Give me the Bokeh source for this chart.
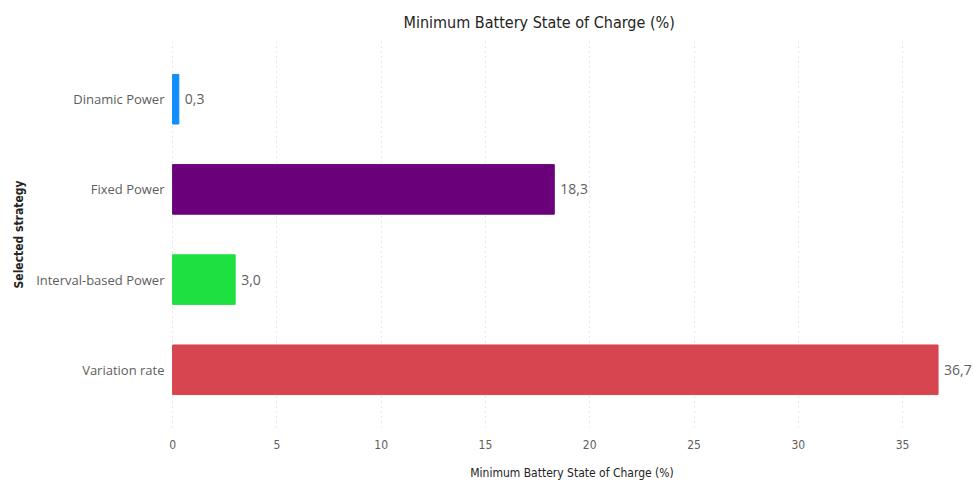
from bokeh.plotting import figure
from bokeh.models import ColumnDataSource, FactorRange, Range1d, Title
from bokeh.core.properties import value
from bokeh.embed import file_html
from bokeh.resources import INLINE

strategies = ["Dinamic Power", "Fixed Power", "Interval-based Power", "Variation rate"]
min_soc = [0.3, 18.3, 3.0, 36.7]
bar_colors = ["#118DFF", "#6B007B", "#1FE041", "#D64550"]
labels = [f"{v:.1f}".replace(".", ",") for v in min_soc]
x_ticks = [0, 5, 10, 15, 20, 25, 30, 35]

src = ColumnDataSource(dict(cat=strategies, val=min_soc, color=bar_colors, lab=labels))

p = figure(
    width=973, height=482,
    y_range=FactorRange(*reversed(strategies), range_padding=0.14, range_padding_units="absolute"),
    x_range=Range1d(-0.1, 38.4),
    output_backend="svg", toolbar_location=None,
    min_border_left=170, min_border_right=0, min_border_top=40, min_border_bottom=50,
)
p.title = Title(text="Minimum Battery State of Charge (%)", align="left", offset=233,
                text_font="DejaVu Sans Condensed", text_font_size="16px",
                text_font_style="normal", text_color="#252423", standoff=20)
p.title_location = "above"

p.hbar(y="cat", right="val", left=0, height=0.55, color="color", source=src)
p.text(x="val", y="cat", text="lab", source=src, x_offset=6,
       text_baseline="middle", text_align="left",
       text_font=value("Open Sans"), text_font_size="14px", text_color="#605E5C")

p.outline_line_color = None
p.background_fill_color = "white"
p.border_fill_color = "white"
p.ygrid.grid_line_color = None
p.xgrid.ticker = x_ticks
p.xgrid.grid_line_color = "#D0D0D0"
p.xgrid.grid_line_dash = "1 4"
p.xgrid.grid_line_width = 1

p.xaxis.ticker = x_ticks
p.xaxis.axis_line_color = None
p.xaxis.major_tick_line_color = None
p.xaxis.major_tick_out = 0
p.xaxis.major_tick_in = 0
p.xaxis.minor_tick_line_color = None
p.xaxis.major_label_text_font = "DejaVu Sans Condensed"
p.xaxis.major_label_text_font_size = "12px"
p.xaxis.major_label_text_color = "#605E5C"
p.xaxis.major_label_standoff = 12
p.xaxis.axis_label = "Minimum Battery State of Charge (%)"
p.xaxis.axis_label_text_font = "DejaVu Sans Condensed"
p.xaxis.axis_label_text_font_size = "12px"
p.xaxis.axis_label_text_font_style = "normal"
p.xaxis.axis_label_text_color = "#252423"
p.xaxis.axis_label_standoff = 14

p.yaxis.axis_line_color = None
p.yaxis.major_tick_line_color = None
p.yaxis.major_tick_out = 0
p.yaxis.major_tick_in = 0
p.yaxis.minor_tick_line_color = None
p.yaxis.major_label_text_font = "Open Sans"
p.yaxis.major_label_text_font_size = "13px"
p.yaxis.major_label_text_color = "#605E5C"
p.yaxis.major_label_standoff = 6
p.yaxis.axis_label = "Selected strategy"
p.yaxis.axis_label_text_font = "DejaVu Sans Condensed"
p.yaxis.axis_label_text_font_size = "12px"
p.yaxis.axis_label_text_font_style = "bold"
p.yaxis.axis_label_text_color = "#252423"
p.yaxis.axis_label_standoff = 7

open("out.html", "w").write(file_html(p, INLINE))
